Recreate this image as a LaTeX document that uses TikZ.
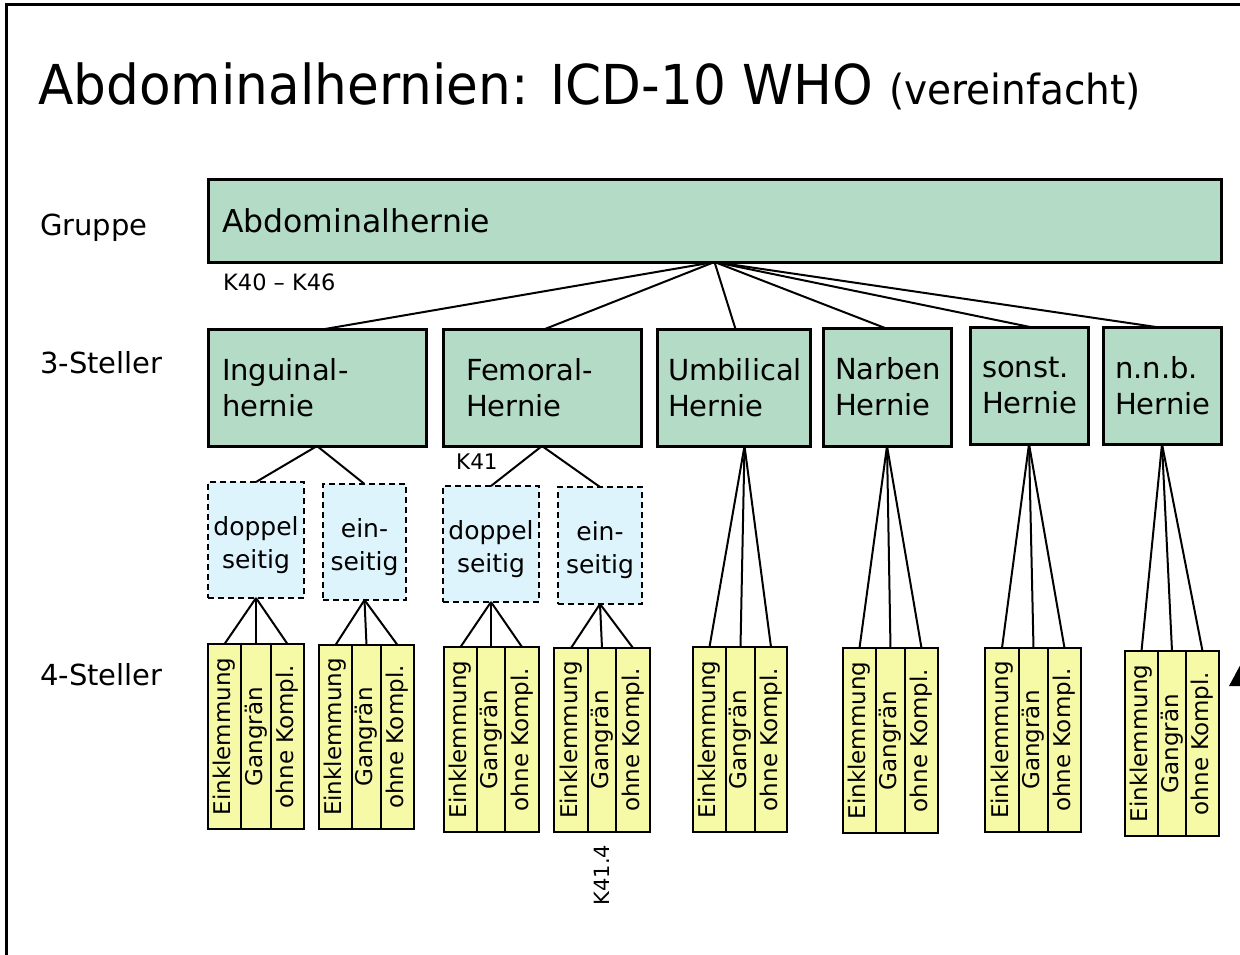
\documentclass[tikz,border=0pt]{standalone}
\usepackage{fontspec}
\setmainfont{DejaVu Sans}
\definecolor{herniegreen}{RGB}{179,219,198}
\definecolor{seiteblue}{RGB}{222,244,253}
\definecolor{kompyellow}{RGB}{246,249,166}
\def\fs#1#2{\fontsize{#1}{#2}\selectfont}% size in px, baselineskip

\begin{document}
\begin{tikzpicture}[x=1pt,y=-1pt,
    gruppe/.style={draw,line width=3pt,fill=herniegreen,anchor=north west,outer sep=0pt,
      inner ysep=0pt,align=left,font=\fs{31.5}{38}},
    steller/.style={draw,line width=3pt,fill=herniegreen,anchor=north west,outer sep=0pt,
      inner ysep=0pt,align=left,minimum height=117pt,font=\fs{29}{36}},
    seite/.style={draw,dash pattern=on 6pt off 4pt,line width=1.5pt,fill=seiteblue,anchor=north west,
      outer sep=0pt,inner sep=0pt,align=center,text height=29pt,font=\fs{25}{33}},
    strip/.style={draw,line width=2.5pt,fill=kompyellow,rotate=90,outer sep=0pt,inner sep=0pt,
      font=\fs{23}{28}},
    kante/.style={line width=2pt},
    rowlbl/.style={anchor=base west,inner sep=0pt,font=\fs{29}{34}},
    code/.style={anchor=base west,inner sep=0pt,font=\fs{22.5}{26}}]

   \useasboundingbox (0,0) rectangle (1240,955);
   \clip (0,0) rectangle (1240,955);

   % frame and title
   \draw[line width=3pt] (6,970) -- (6,5) -- (1260,5);
   \fill (1229,686) -- (1243,660) -- (1257,686) -- cycle;
   \node[anchor=base west,inner sep=0pt] (title) at (38,105)
     {\scalebox{0.94}[1]{\fs{55}{60}Abdominalhernien: ICD-10 WHO \fs{41.5}{44}(vereinfacht)}};

   % row labels
   \node[rowlbl] (gruppe) at (40,235) {Gruppe};
   \node[rowlbl] (stell3) at (40,373) {3-Steller};
   \node[rowlbl] (stell4) at (40,685) {4-Steller};

   % Gruppe
   \node[gruppe,inner xsep=14pt,text width=985pt,minimum height=82pt] (abd) at (208,180) {Abdominalhernie};
   \node[code] (kabd) at (223,290) {K40 -- K46};

   % 3-Steller
   \node[steller,inner xsep=14pt,text width=190pt] (ing) at (208,329) {Inguinal-\\hernie};
   \node[steller,inner xsep=23pt,text width=152pt] (fem) at (443,329) {Femoral-\\Hernie};
   \node[steller,inner xsep=11pt,text width=131pt] (umb) at (657,329) {Umbilical\\Hernie};
   \node[steller,inner xsep=12pt,text width=104pt,minimum height=118pt] (nar) at (823,328) {Narben\\Hernie};
   \node[steller,inner xsep=12pt,text width=94pt] (son) at (970,327) {sonst.\\Hernie};
   \node[steller,inner xsep=12pt,text width=94pt] (nnb) at (1103,327) {n.n.b.\\Hernie};
   \node[code,font=\fs{21.5}{26}] (kfem) at (456,469) {K41};

   \foreach \n/\dx in {ing/8,fem/3,umb/2,nar/-2,son/1,nnb/-6}
     \draw[kante] (abd.south) -- ([xshift=\dx pt]\n.north);

   % Seite
   \node[seite,text width=96pt,minimum height=116pt] (dopI) at (208,482) {doppel\\seitig};
   \node[seite,text width=83pt,minimum height=116pt] (einI) at (323,484) {ein-\\seitig};
   \node[seite,text width=96pt,minimum height=116pt] (dopF) at (443,486) {doppel\\seitig};
   \node[seite,text width=84pt,minimum height=117pt] (einF) at (558,487) {ein-\\seitig};

   \draw[kante] (ing.south) -- (dopI.north);
   \draw[kante] (ing.south) -- (einI.north);
   \draw[kante] (fem.south) -- (dopF.north);
   \draw[kante] (fem.south) -- (einF.north);

   \coordinate (umbfoot) at ([xshift=11pt]umb.south);

   % 4-Steller
   \foreach \g/\xa/\xb/\xc/\xd/\ya/\yb/\p in {
       1/208/241/271/304/644/829/dopI,  2/319/352/381/414/645/829/einI,
       3/444/477/505/539/647/832/dopF,  4/554/588/616/650/648/832/einF,
       5/693/726/755/787/647/832/umbfoot, 6/843/876/905/938/648/833/nar,
       7/985/1019/1048/1081/648/832/son, 8/1125/1158/1186/1219/651/836/nnb} {
     \node[strip,minimum width={(\yb-\ya)*1pt},minimum height={(\xb-\xa)*1pt}]
       (s\g a) at ({(\xa+\xb)/2},{(\ya+\yb)/2}) {Einklemmung};
     \node[strip,minimum width={(\yb-\ya)*1pt},minimum height={(\xc-\xb)*1pt}]
       (s\g b) at ({(\xb+\xc)/2},{(\ya+\yb)/2}) {Gangrän};
     \node[strip,minimum width={(\yb-\ya)*1pt},minimum height={(\xd-\xc)*1pt}]
       (s\g c) at ({(\xc+\xd)/2},{(\ya+\yb)/2}) {ohne Kompl.};
     \draw[kante] (\p.south) -- (s\g a.east);
     \draw[kante] (\p.south) -- (s\g b.east);
     \draw[kante] (\p.south) -- (s\g c.east);
   }

   \node[code,anchor=center,rotate=90,font=\fs{21}{26}] (k414) at (602,875) {K41.4};
\end{tikzpicture}
\end{document}
